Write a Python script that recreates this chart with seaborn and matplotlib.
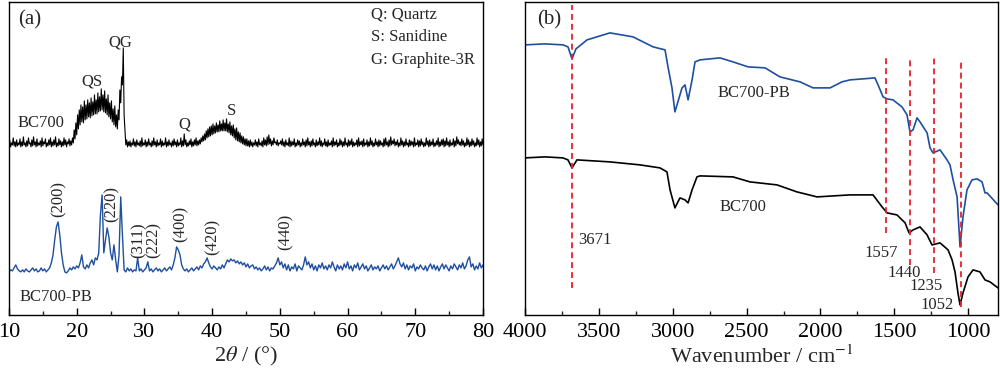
import numpy as np
import pandas as pd
import matplotlib
matplotlib.use('Agg')
import matplotlib.pyplot as plt
import seaborn as sns

# ---------------- XRD (a) ----------------
# BC700-PB sampled every 0.25 deg, 10..80 (a.u.)
two_theta = np.arange(10, 80.001, 0.25)
# BC700 is very noisy: lower edge of the noise band on the 0.25 grid,
# upper spikes at the half-way points (10.125, 10.375, ...)
two_theta_fine = np.arange(10, 80.001, 0.125)

bc700_lo = [
    169, 168, 170, 169, 168, 169, 170, 168, 169, 170, 168, 169, 171, 168, 169, 170,
    168, 169, 170, 168, 169, 171, 168, 169, 170, 168, 169, 170, 168, 169, 170, 168,
    169, 170, 168, 171, 169, 170, 172, 176, 180, 186, 190, 193, 192, 195, 196, 198,
    197, 199, 200, 201, 201, 203, 204, 205, 203, 202, 200, 198, 196, 193, 190, 188,
    186, 195, 212, 230, 200, 170, 168, 169, 168, 170, 169, 168, 170, 169, 168, 169,
    170, 168, 169, 170, 168, 169, 170, 168, 169, 170, 168, 169, 170, 168, 169, 170,
    168, 169, 170, 168, 169, 170, 168, 169, 170, 168, 169, 170, 168, 169, 170, 169,
    170, 171, 173, 174, 175, 177, 178, 179, 180, 181, 182, 183, 183, 184, 184, 184,
    184, 183, 182, 180, 179, 177, 175, 174, 173, 172, 171, 170, 169, 169, 168, 169,
    168, 170, 169, 168, 170, 169, 168, 170, 169, 170, 171, 169, 170, 172, 170, 169,
    171, 170, 169, 168, 170, 169, 168, 169, 170, 168, 169, 170, 168, 169, 170, 168,
    169, 170, 168, 169, 170, 168, 169, 170, 169, 168, 170, 169, 168, 169, 170, 168,
    169, 170, 168, 169, 170, 168, 169, 170, 168, 169, 170, 168, 169, 170, 168, 169,
    170, 168, 169, 170, 168, 169, 170, 168, 169, 170, 168, 169, 170, 168, 169, 170,
    168, 169, 170, 171, 169, 170, 168, 169, 170, 168, 169, 170, 168, 169, 170, 168,
    169, 170, 168, 169, 170, 168, 169, 170, 168, 169, 170, 168, 169, 170, 168, 169,
    170, 168, 169, 170, 168, 169, 170, 168, 169, 171, 170, 169, 170, 168, 169, 170,
    168, 169, 170, 168, 169, 170, 168, 169, 170,
]
bc700_hi = [
    174, 172, 177, 173, 175, 172, 176, 173, 178, 172, 174, 177, 172, 175, 178, 173,
    176, 172, 174, 177, 173, 176, 172, 175, 177, 173, 175, 178, 172, 176, 174, 173,
    177, 175, 173, 176, 174, 177, 185, 192, 200, 205, 210, 208, 214, 210, 215, 212,
    217, 213, 220, 215, 222, 218, 226, 220, 224, 216, 220, 212, 214, 206, 209, 200,
    205, 225, 238, 267, 185, 175, 173, 174, 172, 176, 173, 175, 172, 174, 177, 172,
    175, 173, 176, 172, 174, 177, 173, 175, 172, 176, 174, 172, 177, 173, 175, 172,
    174, 176, 173, 175, 172, 177, 174, 181, 175, 172, 174, 176, 173, 175, 177, 174,
    175, 177, 179, 181, 184, 186, 188, 189, 191, 189, 192, 190, 194, 191, 195, 192,
    196, 191, 193, 189, 190, 186, 187, 183, 182, 179, 178, 176, 176, 174, 175, 173,
    172, 175, 173, 176, 172, 174, 177, 175, 178, 180, 176, 174, 177, 173, 175, 172,
    174, 176, 173, 175, 172, 177, 174, 173, 176, 172, 175, 174, 172, 176, 173, 175,
    177, 173, 174, 176, 172, 175, 173, 177, 174, 172, 176, 173, 175, 172, 174, 177,
    173, 175, 172, 176, 174, 173, 177, 172, 175, 174, 176, 173, 172, 175, 177, 173,
    174, 176, 172, 175, 173, 177, 174, 172, 176, 173, 175, 174, 172, 176, 177, 173,
    175, 178, 174, 176, 173, 175, 172, 177, 174, 173, 176, 172, 175, 174, 173, 177,
    172, 175, 174, 176, 173, 172, 177, 174, 175, 173, 176, 172, 174, 177, 173, 175,
    176, 174, 177, 173, 175, 172, 176, 174, 178, 175, 173, 176, 174, 172, 177, 175,
    173, 176, 174, 172, 177, 175, 173, 176,
]

bc700pb_xrd = [
    43, 45, 44, 47, 50, 46, 44, 43, 45, 43, 46, 44, 43, 45, 47, 44,
    46, 43, 44, 47, 44, 46, 43, 45, 47, 52, 60, 75, 88, 93, 80, 62,
    50, 43, 42, 44, 47, 45, 48, 46, 49, 47, 52, 60, 48, 46, 50, 47,
    52, 55, 50, 57, 55, 62, 100, 120, 62, 75, 87, 78, 62, 55, 70, 55,
    43, 60, 118, 80, 45, 43, 47, 44, 46, 43, 45, 44, 57, 44, 46, 43,
    45, 47, 53, 44, 46, 43, 45, 47, 44, 46, 43, 45, 47, 44, 46, 48,
    45, 50, 57, 68, 65, 60, 50, 46, 44, 46, 43, 45, 47, 44, 46, 48,
    45, 49, 47, 51, 53, 57, 52, 48, 46, 49, 47, 45, 48, 46, 50, 47,
    51, 55, 53, 56, 54, 55, 52, 54, 51, 53, 50, 52, 48, 51, 47, 49,
    50, 46, 48, 45, 47, 44, 46, 49, 45, 48, 44, 47, 46, 49, 52, 57,
    50, 53, 47, 51, 45, 50, 44, 48, 46, 51, 44, 49, 47, 45, 50, 58,
    50, 53, 47, 51, 45, 49, 44, 50, 47, 52, 46, 49, 45, 50, 47, 53,
    48, 44, 50, 46, 49, 45, 51, 47, 53, 46, 49, 44, 50, 47, 52, 45,
    48, 51, 46, 49, 44, 47, 50, 45, 48, 46, 49, 44, 47, 50, 46, 49,
    45, 48, 51, 46, 49, 53, 57, 51, 48, 52, 46, 50, 45, 49, 47, 51,
    44, 48, 46, 50, 47, 45, 49, 44, 48, 51, 46, 50, 45, 49, 44, 48,
    51, 46, 50, 47, 44, 49, 46, 51, 48, 45, 50, 47, 52, 46, 49, 55,
    58, 48, 51, 45, 49, 46, 52, 47, 50,
]

xrd_peak_labels = ['(200)', '(220)', '(311)', '(222)', '(400)', '(420)', '(440)']
xrd_peak_x = [17.4, 25.1, 29.1, 31.4, 35.4, 40.0, 50.8]
xrd_peak_y = [98, 93, 57, 57, 73, 60, 65]

phase_labels = ['QS', 'QG', 'Q', 'S']
phase_x = [22.3, 26.4, 35.9, 42.8]
phase_y = [233, 272, 190, 204]

legend_lines = ['Q: Quartz', 'S: Sanidine', 'G: Graphite-3R']

# ---------------- FTIR (b) ----------------
wn_pb = [4000, 3865, 3743, 3709, 3682, 3655, 3580, 3425, 3269, 3133, 3052, 3032,
         3005, 2985, 2937, 2917, 2896, 2869, 2849, 2815, 2680, 2592, 2490, 2375,
         2274, 2138, 2050, 1935, 1854, 1800, 1712, 1631, 1610, 1576, 1549, 1509,
         1448, 1414, 1394, 1373, 1346, 1326, 1278, 1258, 1238, 1190, 1143, 1123,
         1102, 1075, 1055, 1035, 1008, 974, 940, 906, 886, 872, 798]
ir_pb = [270, 271, 270, 268, 256, 266, 275, 282, 278, 268, 265, 248,
         227, 203, 227, 230, 215, 235, 253, 255, 257, 253, 248, 247,
         238, 233, 227, 227, 233, 235, 236, 237, 230, 218, 216, 215,
         208, 200, 183, 185, 197, 193, 182, 167, 162, 165, 155, 150,
         135, 118, 68, 98, 125, 135, 136, 133, 122, 122, 110]

wn_bc = [4000, 3865, 3743, 3709, 3682, 3648, 3425, 3221, 3086, 3039, 3018, 2985,
         2951, 2917, 2896, 2869, 2836, 2815, 2592, 2477, 2294, 2159, 2023, 1800,
         1644, 1583, 1549, 1482, 1427, 1400, 1373, 1326, 1278, 1245, 1190, 1136,
         1109, 1089, 1069, 1055, 1035, 1001, 967, 920, 886, 852, 798]
ir_bc = [157, 158, 157, 155, 147, 155, 153, 150, 147, 143, 125, 107,
         117, 115, 112, 125, 138, 139, 138, 133, 130, 123, 118, 120,
         120, 108, 102, 100, 92, 82, 85, 88, 80, 70, 72, 65,
         55, 43, 22, 10, 22, 38, 45, 43, 35, 33, 27]

band_labels = ['3671', '1557', '1440', '1235', '1052']
band_line_x = [3680, 1555, 1395, 1233, 1050]
band_line_top = [310, 258, 257, 257, 255]
band_line_bottom = [27, 82, 50, 42, 8]
band_text_x = [3642, 1588, 1432, 1284, 1209]
band_text_y = [75, 62, 42, 29, 10]

# ---------------- style ----------------
sns.set_theme(style='ticks')
plt.rcParams['font.family'] = ['Liberation Serif', 'DejaVu Serif']
plt.rcParams['mathtext.fontset'] = 'stix'
plt.rcParams['axes.linewidth'] = 1.0

blue = '#1f4f9f'
red = '#e8202a'

fig = plt.figure(figsize=(10, 3.74), dpi=100)
ax1 = fig.add_axes([0.009, 0.158, 0.474, 0.837])
ax2 = fig.add_axes([0.525, 0.158, 0.473, 0.837])

# interleave lower edge and upper spikes of the BC700 noise band
bc700_xrd = np.empty(len(two_theta_fine))
bc700_xrd[0::2] = bc700_lo
bc700_xrd[1::2] = bc700_hi
xrd_bc = pd.DataFrame({'2theta': two_theta_fine, 'I': bc700_xrd})
xrd_pb = pd.DataFrame({'2theta': two_theta, 'I': bc700pb_xrd})
sns.lineplot(data=xrd_bc, x='2theta', y='I', ax=ax1, color='black', linewidth=0.8, estimator=None)
sns.lineplot(data=xrd_pb, x='2theta', y='I', ax=ax1, color=blue, linewidth=1.0, estimator=None)

ax1.set_xlim(10, 80)
ax1.set_ylim(0, 313)
ax1.set_xticks(np.arange(10, 81, 10))
ax1.set_xticks(np.arange(15, 80, 10), minor=True)
ax1.set_xlabel(r'2$\theta$ / (°)', fontsize=16, labelpad=2)
ax1.set_ylabel('')

ax1.text(11.3, 295, '(a)', fontsize=15, ha='left', va='center')
ax1.text(11.3, 192, 'BC700', fontsize=12, ha='left', va='center')
ax1.text(11.5, 18, 'BC700-PB', fontsize=12, ha='left', va='center')
for lab, x, y in zip(phase_labels, phase_x, phase_y):
    ax1.text(x, y, lab, fontsize=12, ha='center', va='center')
for lab, x, y in zip(xrd_peak_labels, xrd_peak_x, xrd_peak_y):
    ax1.text(x, y, lab, fontsize=12, rotation=90, ha='center', va='bottom')
for i, lab in enumerate(legend_lines):
    ax1.text(63.5, 300 - i * 22.5, lab, fontsize=12, ha='left', va='center')

ftir_pb = pd.DataFrame({'wn': wn_pb, 'T': ir_pb})
ftir_bc = pd.DataFrame({'wn': wn_bc, 'T': ir_bc})
sns.lineplot(data=ftir_pb, x='wn', y='T', ax=ax2, color=blue, linewidth=1.2, estimator=None)
sns.lineplot(data=ftir_bc, x='wn', y='T', ax=ax2, color='black', linewidth=1.2, estimator=None)

for x, top, bot in zip(band_line_x, band_line_top, band_line_bottom):
    ax2.plot([x, x], [bot, top], color=red, linewidth=1.3, linestyle=(0, (3.3, 2.2)))
ax2.text(band_text_x[0], band_text_y[0], band_labels[0], fontsize=12, ha='left', va='center')
for lab, x, y in zip(band_labels[1:], band_text_x[1:], band_text_y[1:]):
    ax2.text(x, y, lab, fontsize=12, ha='center', va='center')

ax2.text(3919, 295, '(b)', fontsize=15, ha='left', va='center')
ax2.text(2696, 222, 'BC700-PB', fontsize=12, ha='left', va='center')
ax2.text(2682, 108, 'BC700', fontsize=12, ha='left', va='center')

ax2.set_xlim(4000, 798)
ax2.set_ylim(0, 313)
ax2.set_xticks(np.arange(4000, 999, -500))
ax2.set_xticks(np.arange(3750, 799, -500), minor=True)
ax2.set_xlabel(r'Wavenumber / cm$^{-1}$', fontsize=16, labelpad=2)
ax2.set_ylabel('')

for ax in (ax1, ax2):
    for s in ax.spines.values():
        s.set_visible(True)
        s.set_linewidth(1.0)
        s.set_color('black')
    ax.tick_params(axis='x', which='major', direction='in', length=5, width=1.0,
                   labelsize=16, pad=6, top=False, colors='black')
    ax.tick_params(axis='x', which='minor', direction='in', length=3, width=1.0, top=False)
    ax.tick_params(axis='y', left=False, right=False, labelleft=False)

fig.savefig('out.png', dpi=100)
